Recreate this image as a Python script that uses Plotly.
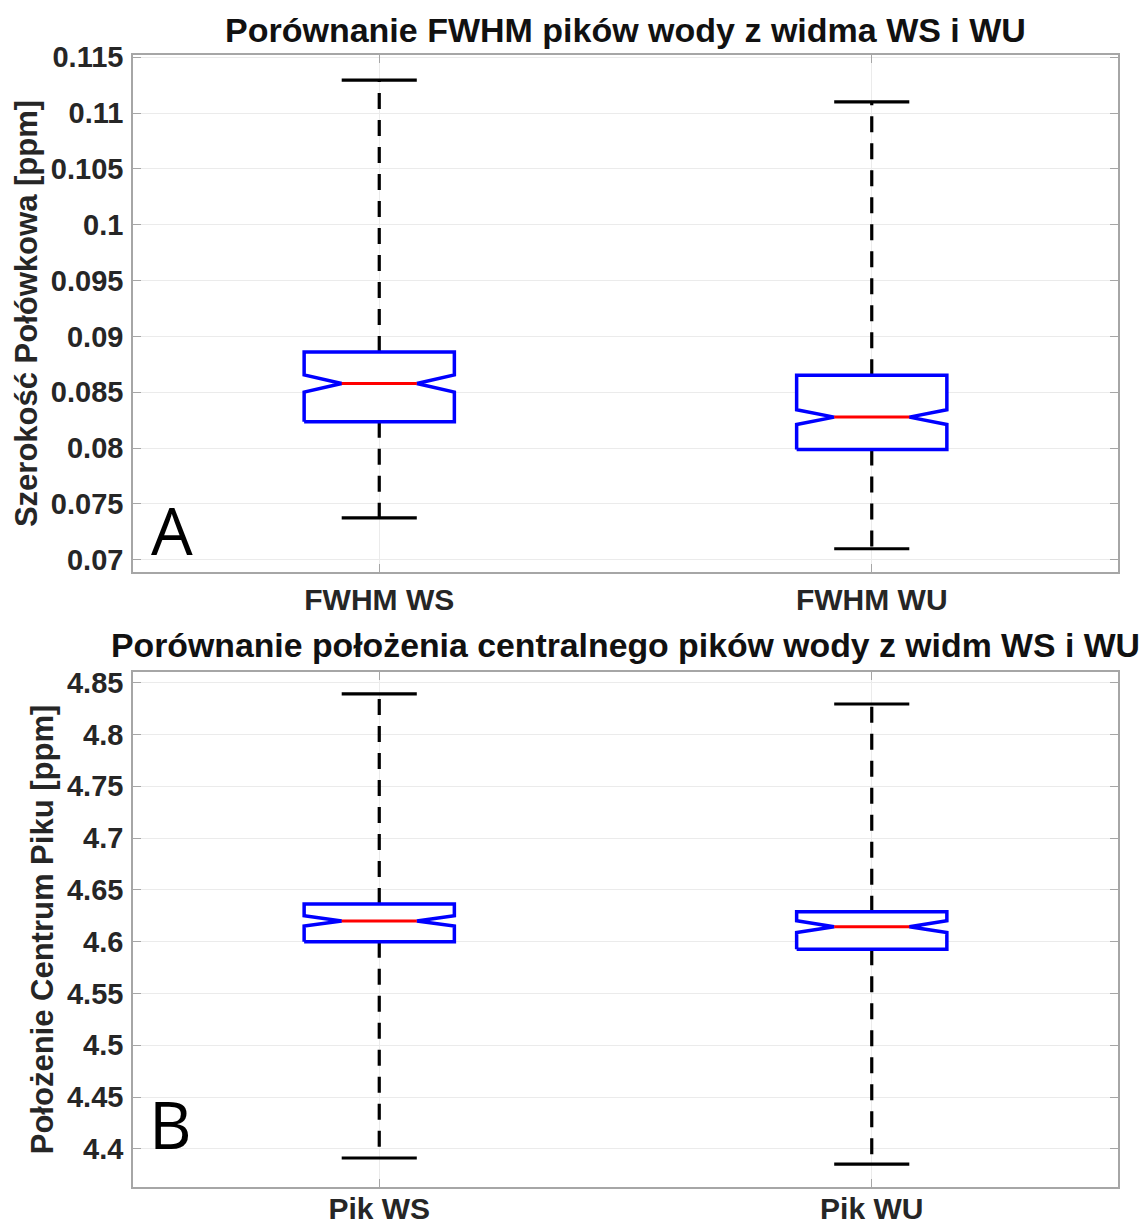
import plotly.graph_objects as go

# ---------------- data ----------------
positions = [1, 2]

fwhm_categories = ["FWHM WS", "FWHM WU"]
fwhm_q1 = [0.08235, 0.07988]
fwhm_median = [0.08578, 0.08277]
fwhm_q3 = [0.08860, 0.08652]
fwhm_lower = [0.07375, 0.07098]
fwhm_upper = [0.11295, 0.11100]
fwhm_notch = [0.00077, 0.00066]

pik_categories = ["Pik WS", "Pik WU"]
pik_q1 = [4.6000, 4.5927]
pik_median = [4.6200, 4.6145]
pik_q3 = [4.6364, 4.6290]
pik_lower = [4.3911, 4.3852]
pik_upper = [4.8392, 4.8295]
pik_notch = [0.0050, 0.0056]

fwhm_tickvals = [0.07, 0.075, 0.08, 0.085, 0.09, 0.095, 0.1, 0.105, 0.11, 0.115]
fwhm_ticktext = ["0.07", "0.075", "0.08", "0.085", "0.09", "0.095", "0.1", "0.105", "0.11", "0.115"]
pik_tickvals = [4.4, 4.45, 4.5, 4.55, 4.6, 4.65, 4.7, 4.75, 4.8, 4.85]
pik_ticktext = ["4.4", "4.45", "4.5", "4.55", "4.6", "4.65", "4.7", "4.75", "4.8", "4.85"]

title_top = "Porównanie FWHM pików wody z widma WS i WU"
title_bottom = "Porównanie położenia centralnego pików wody z widm WS i WU"
ylabel_top = "Szerokość Połówkowa [ppm]"
ylabel_bottom = "Położenie Centrum Piku [ppm]"

# ---------------- style ----------------
BOX_W = 0.305
NOTCH_W = 0.5
HALF = BOX_W / 2
INNER = HALF * (1 - NOTCH_W)
CAP_HALF = BOX_W / 4
BLUE = "#0000ff"
RED = "#ff0000"
TXT = "#262626"
AXC = "#a6a6a6"
GRID = "#ebebeb"
FONT = "Liberation Sans"

fig = go.Figure()


def add_panel(xa, ya, q1, med, q3, lo, hi, notch):
    bx, by, wx, wy, cx, cy, mx, my = [], [], [], [], [], [], [], []
    for p, a, m, b, l, h, n in zip(positions, q1, med, q3, lo, hi, notch):
        bx += [p - HALF, p + HALF, p + HALF, p + INNER, p + HALF, p + HALF,
               p - HALF, p - HALF, p - INNER, p - HALF, p - HALF, None]
        by += [a, a, m - n, m, m + n, b, b, m + n, m, m - n, a, None]
        wx += [p, p, None, p, p, None]
        wy += [b, h, None, a, l, None]
        cx += [p - CAP_HALF, p + CAP_HALF, None, p - CAP_HALF, p + CAP_HALF, None]
        cy += [h, h, None, l, l, None]
        mx += [p - INNER, p + INNER, None]
        my += [m, m, None]
    fig.add_trace(go.Scatter(x=wx, y=wy, mode="lines", xaxis=xa, yaxis=ya,
                             line=dict(color="black", width=3.2, dash="16px,11px"),
                             showlegend=False, hoverinfo="skip"))
    fig.add_trace(go.Scatter(x=cx, y=cy, mode="lines", xaxis=xa, yaxis=ya,
                             line=dict(color="black", width=3.2),
                             showlegend=False, hoverinfo="skip"))
    fig.add_trace(go.Scatter(x=bx, y=by, mode="lines", xaxis=xa, yaxis=ya,
                             line=dict(color=BLUE, width=3.5), fill="toself",
                             fillcolor="white",
                             showlegend=False, hoverinfo="skip"))
    fig.add_trace(go.Scatter(x=mx, y=my, mode="lines", xaxis=xa, yaxis=ya,
                             line=dict(color=RED, width=3),
                             showlegend=False, hoverinfo="skip"))


add_panel("x", "y", fwhm_q1, fwhm_median, fwhm_q3, fwhm_lower, fwhm_upper, fwhm_notch)
add_panel("x2", "y2", pik_q1, pik_median, pik_q3, pik_lower, pik_upper, pik_notch)

tickfont = dict(family=FONT, size=29, color=TXT, weight="bold")
xtickfont = dict(family=FONT, size=30, color=TXT, weight="bold")

common_x = dict(range=[0.5, 2.5], tickvals=positions, showgrid=True, gridcolor=GRID,
                gridwidth=1, ticks="inside", ticklen=8, tickcolor=AXC, showline=True,
                linecolor=AXC, linewidth=1.5, mirror="ticks", zeroline=False,
                tickfont=xtickfont, automargin=False)
common_y = dict(showgrid=True, gridcolor=GRID, gridwidth=1, ticks="inside", ticklen=8,
                tickcolor=AXC, showline=True, linecolor=AXC, linewidth=1.5,
                mirror="ticks", zeroline=False, tickfont=tickfont, ticklabelstandoff=2,
                automargin=False)

top_dom = [(1187 - 572) / 1132, 1.0]
bot_dom = [0.0, (1187 - 672) / 1132]

fig.update_layout(
    width=1145, height=1229,
    margin=dict(l=133, r=27, t=55, b=42),
    paper_bgcolor="white", plot_bgcolor="white",
    xaxis=dict(common_x, domain=[0, 1], anchor="y", ticktext=fwhm_categories,
               ticklabelstandoff=0),
    yaxis=dict(common_y, domain=top_dom, anchor="x", range=[0.0689, 0.1152],
               tickvals=fwhm_tickvals, ticktext=fwhm_ticktext,
               title=dict(text=ylabel_top, standoff=4,
                          font=dict(family=FONT, size=31, color=TXT, weight="bold"))),
    xaxis2=dict(common_x, domain=[0, 1], anchor="y2", ticktext=pik_categories,
                ticklabelstandoff=-6),
    yaxis2=dict(common_y, domain=bot_dom, anchor="x2", range=[4.3631, 4.8604],
                tickvals=pik_tickvals, ticktext=pik_ticktext,
                title=dict(text=ylabel_bottom, standoff=4,
                           font=dict(family=FONT, size=31, color=TXT, weight="bold"))),
)

fig.add_annotation(text=title_top, xref="paper", yref="paper", x=0.5,
                   y=1 + (55 - 30) / 1132, showarrow=False, xanchor="center", yanchor="middle",
                   font=dict(family=FONT, size=34, color="#111111", weight="bold"))
fig.add_annotation(text=title_bottom, xref="paper", yref="paper", x=0.4995,
                   y=(1187 - 645) / 1132, showarrow=False, xanchor="center", yanchor="middle",
                   font=dict(family=FONT, size=33.8, color="#111111", weight="bold"))
fig.add_annotation(text="A", xref="x domain", yref="y domain", x=0.04, y=0.083,
                   showarrow=False, xanchor="center", yanchor="middle",
                   font=dict(family="Open Sans", size=66, color="black"))
fig.add_annotation(text="B", xref="x2 domain", yref="y2 domain", x=0.038, y=0.125,
                   showarrow=False, xanchor="center", yanchor="middle",
                   font=dict(family="Open Sans", size=66, color="black"))

fig.write_html("out.html", config={"displayModeBar": False},
               post_script="document.body.style.margin='0px';")
